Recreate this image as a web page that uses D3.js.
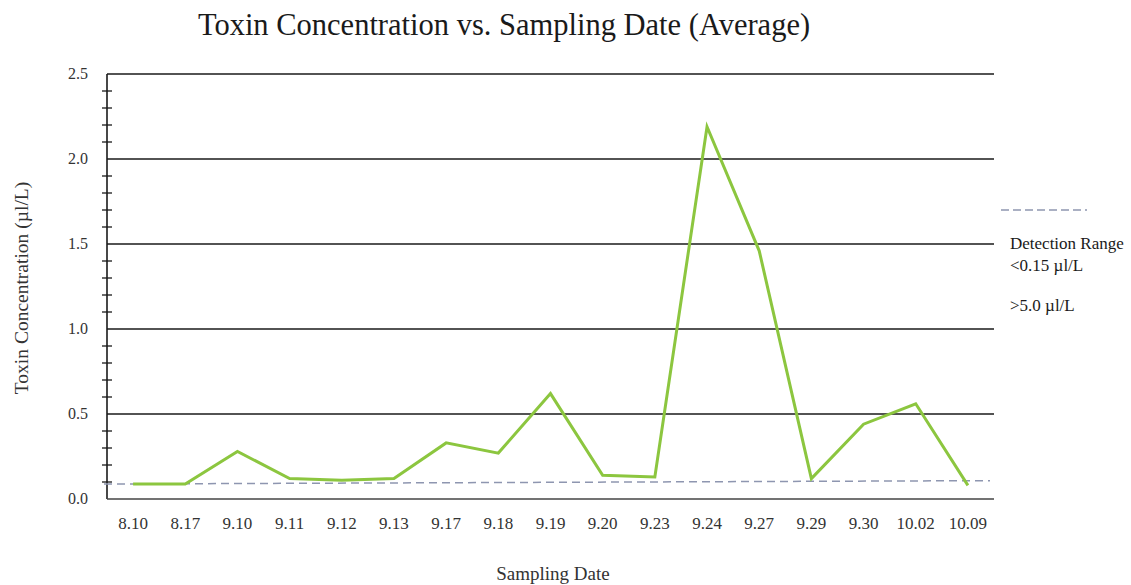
<!DOCTYPE html>
<html><head><meta charset="utf-8">
<script src="https://cdn.jsdelivr.net/npm/d3@7"></script>
<style>body{margin:0;background:#fff}svg{display:block}</style>
</head><body>
<svg id="c" width="1131" height="585"></svg>
<script>
const categories = ["8.10","8.17","9.10","9.11","9.12","9.13","9.17","9.18","9.19","9.20","9.23","9.24","9.27","9.29","9.30","10.02","10.09"];
const toxinValues = [0.088,0.088,0.28,0.12,0.11,0.12,0.33,0.27,0.62,0.14,0.13,2.19,1.46,0.12,0.44,0.56,0.08];
const detectionLine = [0.088, 0.108];
const yTicks = [0,0.5,1.0,1.5,2.0,2.5];
const yMinorTicks = d3.range(0, 2.51, 0.1);
const legendLines = ["Detection Range","<0.15 µl/L",">5.0 µl/L"];

const svg = d3.select("#c");
const font = "'Liberation Serif','Times New Roman',serif";
const L = 107, R = 994, T = 74, B = 499;
const x = d3.scalePoint().domain(categories).range([L, R]).padding(0.5);
const y = d3.scaleLinear().domain([0, 2.5]).range([B, T]);

// gridlines
svg.append("g").selectAll("line").data(yTicks.filter(d => d > 0)).join("line")
  .attr("x1", L).attr("x2", R).attr("y1", d => y(d)).attr("y2", d => y(d))
  .attr("stroke", "#1a1a1a").attr("stroke-width", 1.6);

// minor ticks
svg.append("g").selectAll("line").data(yMinorTicks.filter(d => Math.round(d*10) % 5 !== 0)).join("line")
  .attr("x1", L - 5).attr("x2", L + 5).attr("y1", d => y(d)).attr("y2", d => y(d))
  .attr("stroke", "#1a1a1a").attr("stroke-width", 1.3);

// y axis line
svg.append("line").attr("x1", L).attr("x2", L).attr("y1", T).attr("y2", B)
  .attr("stroke", "#1a1a1a").attr("stroke-width", 1.6);
// x axis line
svg.append("line").attr("x1", L).attr("x2", R).attr("y1", B).attr("y2", B)
  .attr("stroke", "#444").attr("stroke-width", 1.6);

// y tick labels
svg.append("g").selectAll("text").data(yTicks).join("text")
  .attr("x", 88).attr("y", d => y(d) + 5).attr("text-anchor", "end")
  .attr("font-family", font).attr("font-size", 16).attr("fill", "#333")
  .text(d => d.toFixed(1));

// x tick labels
svg.append("g").selectAll("text").data(categories).join("text")
  .attr("x", d => x(d)).attr("y", 529).attr("text-anchor", "middle")
  .attr("font-family", font).attr("font-size", 17).attr("fill", "#333")
  .text(d => d);

// detection dashed line
svg.append("path")
  .datum(detectionLine)
  .attr("d", d3.line().x((d, i) => i === 0 ? L - 3 : 990).y(d => y(d)))
  .attr("fill", "none").attr("stroke", "#8e96b0").attr("stroke-width", 1.5)
  .attr("stroke-dasharray", "8,5");

// data line
svg.append("path").datum(toxinValues)
  .attr("d", d3.line().x((d, i) => x(categories[i])).y(d => y(d)))
  .attr("fill", "none").attr("stroke", "#8cc63f").attr("stroke-width", 3)
  .attr("stroke-linejoin", "miter");

// title
svg.append("text").attr("x", 504).attr("y", 35).attr("text-anchor", "middle")
  .attr("font-family", font).attr("font-size", 30.5).attr("fill", "#1a1a1a")
  .text("Toxin Concentration vs. Sampling Date (Average)");

// axis titles
svg.append("text").attr("x", 553).attr("y", 580).attr("text-anchor", "middle")
  .attr("font-family", font).attr("font-size", 19).attr("fill", "#333")
  .text("Sampling Date");
svg.append("text").attr("transform", "translate(28,288) rotate(-90)").attr("text-anchor", "middle")
  .attr("font-family", font).attr("font-size", 19.5).attr("fill", "#333")
  .text("Toxin Concentration (µl/L)");

// legend
svg.append("line").attr("x1", 1001).attr("x2", 1087).attr("y1", 210).attr("y2", 210)
  .attr("stroke", "#8e96b0").attr("stroke-width", 1.5).attr("stroke-dasharray", "8,4");
const ly = [249, 271, 311];
svg.append("g").selectAll("text").data(legendLines).join("text")
  .attr("x", 1010).attr("y", (d, i) => ly[i])
  .attr("font-family", font).attr("font-size", 17).attr("fill", "#1a1a1a")
  .text(d => d);
</script>
</body></html>
